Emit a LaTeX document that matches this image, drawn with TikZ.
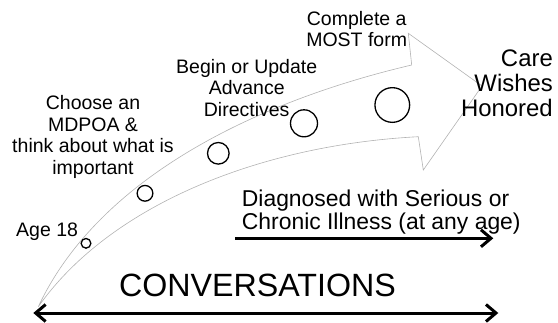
\documentclass[tikz,border=0pt]{standalone}
\usepackage{fontspec}
\setmainfont{Liberation Sans}
\usetikzlibrary{arrows.meta}

\begin{document}
\begin{tikzpicture}[x=1pt, y=-1pt,
        note/.style={inner sep=0pt, align=center, font=\fontsize{19.5}{21.5}\selectfont},
        milestone/.style={circle, draw, line width=1.3pt, inner sep=0pt},
        outline/.style={draw=black!30, line width=0.6pt},
        barb/.tip={Straight Barb[length=10pt,width=17pt]},
        timeline/.style={line width=3pt}]

        % Page frame, pixel units from the top left corner
        \useasboundingbox (0,0) rectangle (558,322);

        % Corners of the big curved arrow
        \coordinate (tail) at (38.3,306.7);
        \coordinate (U1) at (411.7,65);
        \coordinate (U2) at (408.3,33.3);
        \coordinate (tip) at (482,86);
        \coordinate (L2) at (423.3,170);
        \coordinate (L1) at (418.3,136.7);

        \draw[outline] (tail) .. controls (100,175) and (262,100) .. (U1)
            -- (U2) -- (tip) -- (L2) -- (L1)
            .. controls (260,145) and (110,205) .. (tail) -- cycle;

        % Milestones along the arrow, growing with age
        \node[milestone, minimum size=9.7pt] (m1) at (86,243.3) {};
        \node[milestone, minimum size=15.7pt] (m2) at (145,193.3) {};
        \node[milestone, minimum size=21.6pt] (m3) at (218.3,153.3) {};
        \node[milestone, minimum size=27pt] (m4) at (304,123.3) {};
        \node[milestone, minimum size=34.7pt] (m5) at (392.3,105) {};

        % Labels
        \node[note, anchor=base west] (age) at (16,236) {Age 18};
        \node[note, anchor=north] (mdpoa) at (93,95.3)
            {Choose an\\MDPOA \&\\think about what is\\important};
        \node[note, anchor=north] (directives) at (246.7,58.7)
            {Begin or Update\\Advance\\Directives};
        \node[note, anchor=north] (most) at (356.7,11) {Complete a\\MOST form};
        \node[inner sep=0pt, align=right, anchor=north east,
            font=\fontsize{23.9}{25}\selectfont] (honored) at (553,49.5)
            {Care\\Wishes\\Honored};
        \node[inner sep=0pt, align=left, anchor=north west,
            font=\fontsize{22.9}{22.6}\selectfont] (illness) at (241.7,190.2)
            {Diagnosed with Serious or\\Chronic Illness (at any age)};
        \node[inner sep=0pt, anchor=base,
            font=\fontsize{32.2}{36}\selectfont] (conv) at (257.5,296.7) {CONVERSATIONS};

        % Time lines
        \coordinate (ill start) at (235,238.3);
        \coordinate (ill end) at (493.3,238.3);
        \draw[timeline, -barb] (ill start) -- (ill end);

        \coordinate (conv left) at (33.3,313);
        \coordinate (conv right) at (498.3,313);
        \draw[timeline, barb-barb] (conv left) -- (conv right);

\end{tikzpicture}
\end{document}
